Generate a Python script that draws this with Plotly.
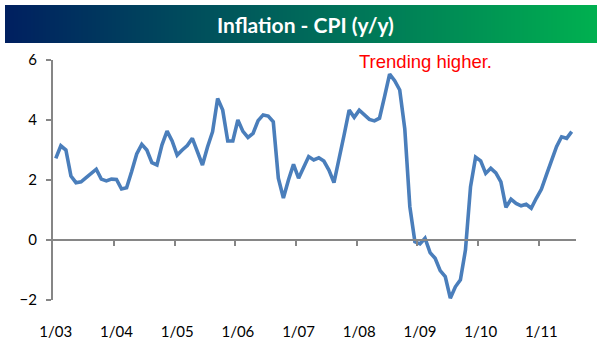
import plotly.graph_objects as go

# Monthly CPI, year-over-year % change, Jan 2003 - Jul 2011
cpi_yoy = [
    2.72, 3.14, 3.00, 2.13, 1.91, 1.94, 2.08, 2.22, 2.36, 2.03, 1.97, 2.03,   # 2003
    2.02, 1.70, 1.74, 2.28, 2.87, 3.19, 3.00, 2.58, 2.50, 3.17, 3.63, 3.30,   # 2004
    2.83, 3.00, 3.15, 3.39, 2.95, 2.50, 3.10, 3.61, 4.72, 4.33, 3.30, 3.30,   # 2005
    4.00, 3.62, 3.42, 3.55, 3.98, 4.17, 4.13, 3.94, 2.06, 1.40, 2.00, 2.52,   # 2006
    2.06, 2.44, 2.78, 2.67, 2.74, 2.63, 2.33, 1.91, 2.67, 3.50, 4.33, 4.09,   # 2007
    4.33, 4.17, 4.02, 3.97, 4.06, 4.78, 5.53, 5.31, 5.00, 3.70, 1.11, -0.06,  # 2008
    -0.13, 0.06, -0.42, -0.61, -1.02, -1.22, -1.94, -1.56, -1.33, -0.33, 1.78, 2.76,  # 2009
    2.64, 2.22, 2.39, 2.24, 1.94, 1.09, 1.36, 1.22, 1.14, 1.19, 1.06, 1.39,   # 2010
    1.69, 2.17, 2.67, 3.11, 3.44, 3.39, 3.61,                                 # 2011
]
year_labels = ["1/03", "1/04", "1/05", "1/06", "1/07", "1/08", "1/09", "1/10", "1/11"]
y_ticks = [-2, 0, 2, 4, 6]

W, H = 598, 344
AXIS_GRAY = "#868686"
LINE_BLUE = "#4A7EBB"

months = list(range(len(cpi_yoy)))
label_pos = [12 * i for i in range(len(year_labels))]
year_bounds = [12 * i - 0.5 for i in range(1, len(year_labels))]
x_range = [-0.55, 102.85]
y_range = [-2, 6]

# plot area in pixels
px_left, px_right, px_top, px_bottom = 53, 576, 60, 300
x_dom = [px_left / W, px_right / W]
y_dom = [1 - px_bottom / H, 1 - px_top / H]
zero_paper = y_dom[0] + (0 - y_range[0]) / (y_range[1] - y_range[0]) * (y_dom[1] - y_dom[0])

fig = go.Figure()

# gradient header band
n_band = 120
fig.add_trace(go.Heatmap(
    z=[list(range(n_band))],
    colorscale=[[0, "#002060"], [0.5, "#00685A"], [1, "#00B050"]],
    showscale=False, hoverinfo="skip", zsmooth="best",
    xaxis="x3", yaxis="y3",
))

# CPI line on the labelled bottom axis
fig.add_trace(go.Scatter(
    x=months, y=cpi_yoy, mode="lines",
    line=dict(color=LINE_BLUE, width=3.6),
    xaxis="x", yaxis="y", showlegend=False, hoverinfo="x+y",
))
# transparent copy so the zero-line axis (tick marks only) is drawn
fig.add_trace(go.Scatter(
    x=months, y=cpi_yoy, mode="lines", opacity=0,
    line=dict(color=LINE_BLUE, width=1),
    xaxis="x2", yaxis="y", showlegend=False, hoverinfo="skip",
))

tick_font = dict(family="Lato", size=15, color="#000000")

fig.update_layout(
    width=W, height=H,
    margin=dict(l=0, r=0, t=0, b=0),
    paper_bgcolor="white", plot_bgcolor="rgba(0,0,0,0)",
    template="none",
    showlegend=False,
    xaxis=dict(
        domain=x_dom, range=x_range, anchor="y", side="bottom",
        tickmode="array", tickvals=label_pos, ticktext=year_labels,
        ticks="", showline=False, showgrid=False, zeroline=False,
        tickfont=tick_font, ticklabelstandoff=21, automargin=False,
    ),
    xaxis2=dict(
        domain=x_dom, range=x_range, overlaying="x", anchor="free",
        position=zero_paper, side="bottom",
        showline=True, linecolor=AXIS_GRAY, linewidth=2,
        tickmode="array", tickvals=year_bounds,
        ticks="outside", ticklen=5, tickwidth=2, tickcolor=AXIS_GRAY,
        showticklabels=False, showgrid=False, zeroline=False, automargin=False,
    ),
    yaxis=dict(
        domain=y_dom, range=y_range, anchor="x",
        tickmode="array", tickvals=y_ticks,
        showline=True, linecolor=AXIS_GRAY, linewidth=2,
        ticks="outside", ticklen=5, tickwidth=2, tickcolor=AXIS_GRAY,
        showgrid=False, zeroline=False, tickfont=tick_font,
        ticklabelstandoff=6, automargin=False,
    ),
    xaxis3=dict(
        domain=[5 / W, 597 / W], anchor="y3", visible=False,
        range=[-0.5, n_band - 0.5], fixedrange=True,
    ),
    yaxis3=dict(
        domain=[1 - 43 / H, 1 - 5 / H], anchor="x3", visible=False,
        range=[-0.5, 0.5], fixedrange=True,
    ),
    annotations=[
        dict(
            text="<b>Inflation - CPI (y/y)</b>", xref="paper", yref="paper",
            x=305 / W, y=1 - 24.5 / H, xanchor="center", yanchor="middle",
            showarrow=False, font=dict(family="Lato", size=21, color="white"),
        ),
        dict(
            text="Trending higher.", xref="paper", yref="paper",
            x=357 / W, y=1 - 62 / H, xanchor="left", yanchor="middle",
            showarrow=False,
            font=dict(family="Liberation Sans", size=18.5, color="#FF0000"),
        ),
    ],
)

fig.write_html("out.html")
